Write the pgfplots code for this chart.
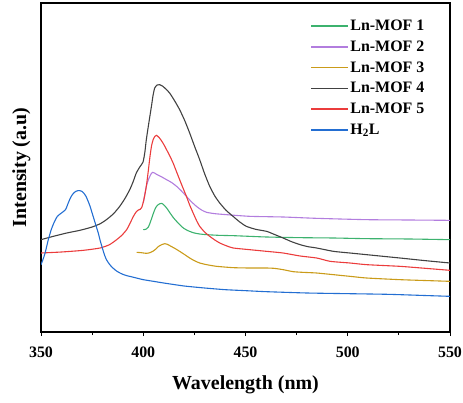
\documentclass[border=0pt]{standalone}
\usepackage{fontspec}
\setmainfont{Liberation Serif}
\usepackage{pgfplots}
\pgfplotsset{compat=1.18}
\definecolor{cgreen}{RGB}{60,178,110}
\definecolor{cpurple}{RGB}{178,125,222}
\definecolor{cyellow}{RGB}{202,155,25}
\definecolor{cgray}{RGB}{65,65,65}
\definecolor{cred}{RGB}{235,60,60}
\definecolor{cblue}{RGB}{35,110,210}
\begin{document}
\begin{tikzpicture}
\begin{axis}[
  scale only axis,
  width=409bp, height=329bp,
  xmin=350, xmax=550, ymin=0, ymax=987,
  xtick={350,400,450,500,550},
  minor xtick={375,425,475,525},
  ytick=\empty,
  xtick pos=bottom,
  tick align=outside,
  major tick length=4bp, minor tick length=3bp,
  axis line style={line width=1.1pt},
  every tick/.style={line width=1pt, black},
  /pgf/number format/assume math mode=true,
  xticklabel style={font=\fontsize{16}{19}\selectfont\bfseries, yshift=-7bp},
  xlabel={Wavelength (nm)},
  ylabel={Intensity (a.u)},
  label style={font=\fontsize{20}{24}\selectfont\bfseries},
  xlabel style={yshift=-12bp},
  ylabel style={yshift=3bp},
  legend style={draw=none, fill=none, at={(rel axis cs:0.658,0.953)}, anchor=north west,
    font=\fontsize{16}{19}\selectfont\bfseries, row sep=5.7bp, inner sep=0pt,
    nodes={inner sep=1.5bp}},
  legend cell align=left,
  legend image code/.code={\draw[#1] (0bp,0bp) -- (37bp,0bp);},
  legend image post style={line width=1.6pt},
  every axis plot/.append style={line width=1.1pt, smooth, tension=0.35},
]
\addplot[cgreen] coordinates {(400,307)(401.2,308)(402.4,314)(403.2,325)(404,339)(404.9,355)(405.7,368)(406.5,377)(407.3,382)(408.2,385)(409,386)(409.8,383)(410.6,378)(411.8,369)(413,358)(414.6,344)(416.3,332)(418,321)(419.6,312)(421.5,305)(424.4,298)(427.6,294)(431,292)(437,290)(444,289)(452,287)(460.3,285)(476.7,283)(493,282)(509.2,280)(530,279)(550,277)};
\addlegendentry{Ln-MOF 1}
\addplot[cpurple] coordinates {(400,387)(400.7,410)(401.5,437)(402.4,455)(403.3,468)(404,476)(404.6,479)(405.5,477)(406.5,473)(408.5,467)(411.4,457)(414,448)(416.3,437)(418.7,423)(421.1,407)(423.5,391)(426,377)(428.5,366)(431,359)(435,355)(440.7,352)(452.2,347)(468.4,345)(484.8,341)(509.2,337)(530,336)(550,335)};
\addlegendentry{Ln-MOF 2}
\addplot[cyellow] coordinates {(396.8,239)(399,238)(401.5,236)(403.3,238)(404.9,243)(406.2,249)(407.3,256)(409,262)(410.6,265)(411.8,263)(413,259)(415.4,251)(417.8,242)(420.3,232)(422.7,222)(425,214)(427.6,207)(431,202)(435.9,197)(444,193)(452,192)(460.3,192)(464,191)(468.4,187)(473.3,181)(478,179)(484.8,177)(493,172)(501.1,167)(509.2,162)(525.5,157)(540,154)(550,152)};
\addlegendentry{Ln-MOF 3}
\addplot[cgray] coordinates {(350,277)(356,287)(362.6,297)(369,305)(375,315)(379,325)(382,337)(385.5,355)(388.5,377)(391,400)(393.4,427)(395,450)(396.6,477)(398.3,495)(399.9,510)(400.8,540)(401.5,577)(402.8,630)(404,677)(404.8,710)(405.6,732)(406.8,741)(408,742)(409.6,737)(411.2,728)(412.9,717)(415.3,694)(417.8,667)(420.3,634)(422.7,597)(425.1,557)(427.6,517)(430,475)(432.5,437)(435,408)(437.4,387)(440.5,365)(443.9,347)(447,331)(450.4,317)(455,308)(460.3,302)(464,293)(468.4,282)(472.5,271)(476.7,262)(480.5,256)(484.8,252)(493,242)(501,237)(509.2,232)(525.5,222)(538,214)(550,207)};
\addlegendentry{Ln-MOF 4}
\addplot[cred] coordinates {(350,237)(360,240)(370.7,245)(378.9,252)(383.5,262)(387,277)(389.5,290)(391.9,307)(393.6,327)(395.2,347)(396.5,360)(397.6,366)(398.5,368)(399.3,374)(400.4,400)(401.5,437)(402.4,480)(403.3,527)(404.1,560)(404.9,578)(405.7,587)(406.5,590)(407.8,583)(409,573)(410.2,561)(411.4,547)(413,528)(414.6,507)(416.2,482)(417.8,457)(419.5,431)(421.1,407)(422.7,381)(424.4,357)(426,335)(427.6,317)(430,300)(432.5,287)(435,276)(437.4,267)(440.5,259)(444,252)(452,247)(460.3,242)(468.4,237)(476.7,228)(484.8,222)(491.4,212)(501.1,207)(509.2,202)(525.5,197)(538,191)(550,185)};
\addlegendentry{Ln-MOF 5}
\addplot[cblue] coordinates {(350,202)(351,218)(352,237)(353.5,275)(355,307)(356.5,330)(358,347)(360,357)(362,367)(363,382)(364,397)(365,409)(366,417)(367,422)(368,424)(369,424)(370,422)(371,416)(372,407)(373,393)(374,377)(375,357)(376,337)(377,317)(378,297)(379,273)(380,252)(381,232)(382,217)(383.5,203)(385,193)(386.5,185)(388,179)(390,173)(392,169)(396,163)(400,157)(405,152)(410,147)(420,138)(430,132)(440,127)(450,124)(460,121)(480,117)(500,115)(520,113)(540,109)(550,107)};
\addlegendentry{H$_{\mathbf{2}}$L}
\coordinate (sw) at (rel axis cs:0,0);
\coordinate (ne) at (rel axis cs:1,1);
\end{axis}
\pgfresetboundingbox
\path ([shift={(-41bp,-71bp)}]sw) rectangle ([shift={(13bp,3bp)}]ne);
\end{tikzpicture}
\end{document}
